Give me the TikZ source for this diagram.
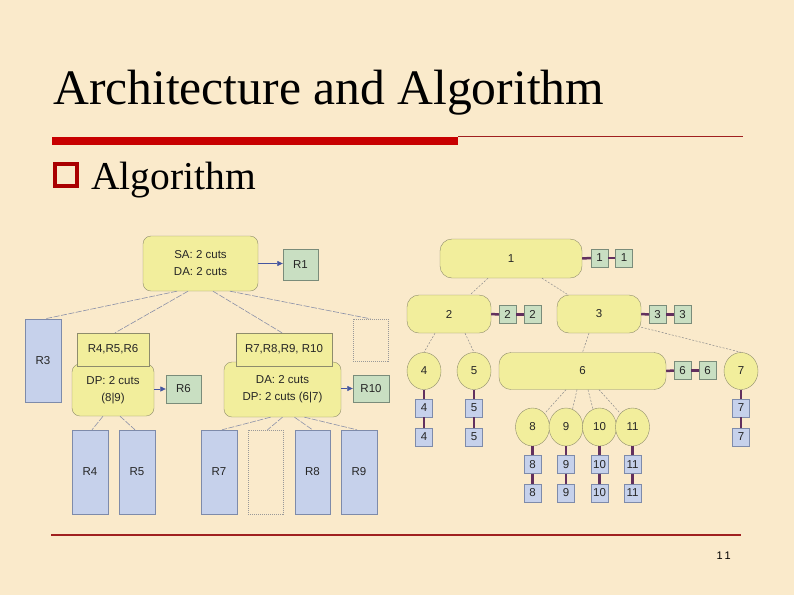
\documentclass[tikz,border=0pt]{standalone}
\usepackage{fontspec}
\setmainfont{Liberation Sans}
\newfontfamily\serifT{Liberation Serif}
\usetikzlibrary{arrows.meta,shapes.geometric}
\definecolor{bg}{HTML}{FAEACB}
\definecolor{yfill}{HTML}{F2EE9C}
\definecolor{ybd}{HTML}{8E8C6C}
\definecolor{gfill}{HTML}{C9DFC2}
\definecolor{gbd}{HTML}{7A8C7A}
\definecolor{bfill}{HTML}{C6D1EB}
\definecolor{bbd}{HTML}{7E8BAA}
\definecolor{purp}{HTML}{62305E}
\definecolor{arrc}{HTML}{4556A0}
\definecolor{edgec}{HTML}{8A90A8}
\definecolor{redge}{HTML}{8C8C8C}
\definecolor{titred}{HTML}{C80000}
\definecolor{thinred}{HTML}{A02020}
\begin{document}
\begin{tikzpicture}[x=1pt,y=-1pt,
  lab/.style={font=\fontsize{11.5}{17}\selectfont, text=black!85},
  num/.style={font=\fontsize{11.5}{13}\selectfont, text=black!85},
  yround/.style={lab, draw=ybd, fill=yfill, rounded corners=8pt, inner sep=0pt, align=center},
  yrect/.style={lab, draw=ybd, fill=yfill, inner sep=0pt, align=center},
  gbox/.style={lab, draw=gbd, fill=gfill, inner sep=0pt},
  bluebox/.style={lab, draw=bbd, fill=bfill, inner sep=0pt},
  emptybox/.style={draw=black!40, dash pattern=on 1pt off 1pt, inner sep=0pt},
  tedge/.style={draw=edgec, line width=0.6pt, dash pattern=on 6pt off 1.5pt},
  arr/.style={draw=arrc, line width=0.7pt, -{Triangle[length=5.5pt,width=5pt]}},
  rnode/.style={num, draw=ybd, fill=yfill, rounded corners=12pt, inner sep=0pt, minimum height=38},
  rcirc/.style={num, draw=ybd, fill=yfill, ellipse, inner sep=0pt, minimum width=34, minimum height=37},
  gsq/.style={num, draw=gbd, fill=gfill, inner sep=0pt, minimum width=17, minimum height=18},
  bsq/.style={num, draw=bbd, fill=bfill, inner sep=0pt, minimum width=17, minimum height=18},
  redgeline/.style={draw=redge, line width=0.5pt, dash pattern=on 2pt off 1.5pt},
  pl/.style={draw=purp, line width=2.5pt}
]
\useasboundingbox[fill=bg] (0,0) rectangle (794,595);

% ---------- title area ----------
\node[anchor=base west, inner sep=0pt, font=\serifT\fontsize{49.6}{56}\selectfont] (title) at (53,104) {Architecture and Algorithm};
\fill[titred] (52,137) rectangle (458,145);
\draw[thinred, line width=1pt] (458,136) -- (743,136);
\node[draw=titred!85!black, line width=4pt, minimum width=22.5, minimum height=22, inner sep=0pt] (bul) at (66,175) {};
\node[anchor=base west, inner sep=0pt, font=\serifT\fontsize{39.5}{44}\selectfont] (sub) at (91,189) {Algorithm};
\draw[thinred, line width=1.2pt] (51,535) -- (741,535);
\node[anchor=base east, inner sep=0pt, font=\fontsize{11}{13}\selectfont] (pg) at (731,559) {1\,1};

% ---------- left diagram ----------
\node[yround, minimum width=115, minimum height=55] (sa) at (200.5,263.5) {SA: 2 cuts\\DA: 2 cuts};
\node[gbox, minimum width=35, minimum height=31] (r1) at (300.5,264.5) {R1};
\node[bluebox, minimum width=36, minimum height=83] (r3) at (43,360.5) {R3};
\node[yround, minimum width=82, minimum height=52] (dp) at (113,390) {DP: 2 cuts\\(8|9)};
\node[yrect, minimum width=72, minimum height=33] (r456) at (113,349.5) {R4,R5,R6};
\node[gbox, minimum width=35, minimum height=28] (r6) at (183.5,389) {R6};
\node[yround, minimum width=117, minimum height=55] (da) at (282.5,389.5) {DA: 2 cuts\\DP: 2 cuts (6|7)};
\node[yrect, minimum width=96, minimum height=33] (r7810) at (284,349.5) {R7,R8,R9, R10};
\node[gbox, minimum width=36, minimum height=27] (r10) at (371,388.5) {R10};
\node[emptybox, minimum width=35, minimum height=42] (e1) at (370.5,340) {};
\node[bluebox, minimum width=36, minimum height=84] (r4) at (90,472) {R4};
\node[bluebox, minimum width=36, minimum height=84] (r5) at (137,472) {R5};
\node[bluebox, minimum width=36, minimum height=84] (r7) at (219,472) {R7};
\node[emptybox, minimum width=35, minimum height=84] (e2) at (265.5,472) {};
\node[bluebox, minimum width=35, minimum height=84] (r8) at (312.5,472) {R8};
\node[bluebox, minimum width=36, minimum height=84] (r9) at (359,472) {R9};

\draw[arr] (sa.east) -- (sa.east -| r1.west);
\draw[arr] (dp.east |- r6.west) -- (r6.west);
\draw[arr] (da.east |- r10.west) -- (r10.west);

\draw[tedge] ([xshift=-23.5pt]sa.south) -- ([xshift=2pt]r3.north);
\draw[tedge] ([xshift=-12.5pt]sa.south) -- ([xshift=2pt]r456.north);
\draw[tedge] ([xshift=12.5pt]sa.south) -- ([xshift=-2pt]r7810.north);
\draw[tedge] ([xshift=29.5pt]sa.south) -- (e1.north);
\draw[tedge] ([xshift=-10pt]dp.south) -- ([xshift=2pt]r4.north);
\draw[tedge] ([xshift=7pt]dp.south) -- ([xshift=-2pt]r5.north);
\draw[tedge] ([xshift=-12pt]da.south) -- ([xshift=3pt]r7.north);
\draw[tedge] ([xshift=0pt]da.south) -- ([xshift=2pt]e2.north);
\draw[tedge] ([xshift=12pt]da.south) -- (r8.north);
\draw[tedge] ([xshift=22pt]da.south) -- ([xshift=-2pt]r9.north);

% ---------- right diagram ----------
\node[rnode, minimum width=142, minimum height=39] (n1) at (511,258.5) {1};
\node[gsq] (s1a) at (599.5,258) {1};
\node[gsq] (s1b) at (624,258) {1};
\node[rnode, minimum width=84] (n2) at (449,314) {2};
\node[gsq] (s2a) at (507.5,314.5) {2};
\node[gsq] (s2b) at (532.5,314.5) {2};
\node[rnode, minimum width=84] (n3) at (599,314) {3};
\node[gsq] (s3a) at (657.5,314.5) {3};
\node[gsq] (s3b) at (682.5,314.5) {3};
\node[rcirc] (n4) at (424,371) {4};
\node[rcirc] (n5) at (474,371) {5};
\node[rnode, minimum width=167, minimum height=37] (n6) at (582.5,371) {6};
\node[gsq] (s6a) at (682.5,370.5) {6};
\node[gsq] (s6b) at (707.5,370.5) {6};
\node[rcirc] (n7) at (741,371) {7};
\node[bsq] (b4a) at (424,408) {4};
\node[bsq] (b4b) at (424,437) {4};
\node[bsq] (b5a) at (474,408) {5};
\node[bsq] (b5b) at (474,437) {5};
\node[bsq] (b7a) at (741,408) {7};
\node[bsq] (b7b) at (741,437) {7};
\node[rcirc, minimum height=38] (n8) at (532.5,427) {8};
\node[rcirc, minimum height=38] (n9) at (566,427) {9};
\node[rcirc, minimum height=38] (n10) at (599.5,427) {10};
\node[rcirc, minimum height=38] (n11) at (632.5,427) {11};
\node[bsq] (b8a) at (532.5,464.5) {8};
\node[bsq] (b8b) at (532.5,493) {8};
\node[bsq] (b9a) at (566,464.5) {9};
\node[bsq] (b9b) at (566,493) {9};
\node[bsq] (b10a) at (599.5,464.5) {10};
\node[bsq] (b10b) at (599.5,493) {10};
\node[bsq] (b11a) at (632.5,464.5) {11};
\node[bsq] (b11b) at (632.5,493) {11};

\draw[redgeline] ([xshift=-23pt]n1.south) -- ([xshift=21pt]n2.north);
\draw[redgeline] ([xshift=31pt]n1.south) -- ([xshift=-31pt]n3.north);
\draw[redgeline] ([xshift=-14pt]n2.south) -- (n4.north);
\draw[redgeline] ([xshift=16pt]n2.south) -- (n5.north);
\draw[redgeline] ([xshift=-10pt]n3.south) -- (n6.north);
\draw[redgeline] ([yshift=6pt]n3.south east) -- (n7.north);
\draw[redgeline] ([xshift=-16.5pt]n6.south) -- (n8.north east);
\draw[redgeline] ([xshift=-5.5pt]n6.south) -- (n9.70);
\draw[redgeline] ([xshift=5.5pt]n6.south) -- (n10.110);
\draw[redgeline] ([xshift=16.5pt]n6.south) -- (n11.north west);

\draw[pl] (n1.east) -- (s1a.west);
\draw[pl] (s1a.east) -- (s1b.west);
\draw[pl] (n2.east) -- (s2a.west);
\draw[pl] (s2a.east) -- (s2b.west);
\draw[pl] (n3.east) -- (s3a.west);
\draw[pl] (s3a.east) -- (s3b.west);
\draw[pl] (n6.east) -- (s6a.west);
\draw[pl] (s6a.east) -- (s6b.west);
\foreach \n in {4,5,7,8,9,10,11} {
  \draw[pl] (n\n.south) -- (b\n a.north);
  \draw[pl] (b\n a.south) -- (b\n b.north);
}
\end{tikzpicture}
\end{document}
